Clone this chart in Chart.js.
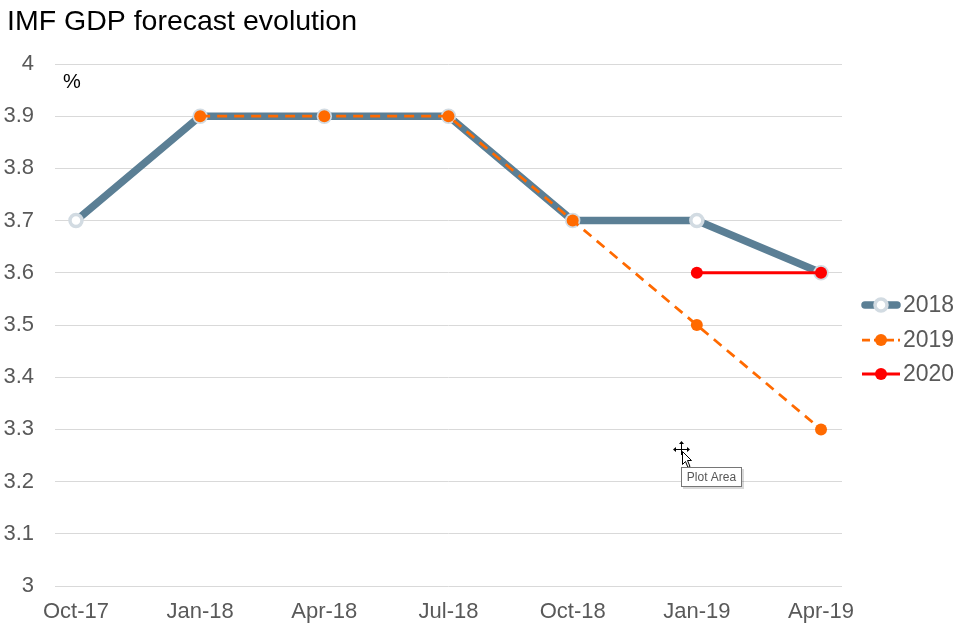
<!DOCTYPE html>
<html>
<head>
<meta charset="utf-8">
<script src="https://cdn.jsdelivr.net/npm/chart.js@4"></script>
<style>
  html, body { margin: 0; padding: 0; background: #fff; }
  #wrap { width: 966px; height: 630px; position: relative; }
</style>
</head>
<body>
<div id="wrap"><canvas id="chart"></canvas></div>
<script>
// data
const months = ['Oct-17', 'Jan-18', 'Apr-18', 'Jul-18', 'Oct-18', 'Jan-19', 'Apr-19']
const f2018 = [3.7, 3.9, 3.9, 3.9, 3.7, 3.7, 3.6]
const f2019 = [null, 3.9, 3.9, 3.9, 3.7, 3.5, 3.3]
const f2020 = [null, null, null, null, null, 3.6, 3.6]
const yTicks = [3, 3.1, 3.2, 3.3, 3.4, 3.5, 3.6, 3.7, 3.8, 3.9, 4]

const FONT = "'Liberation Sans', Arial, sans-serif"
const grey = '#595959'
const chartTitle = 'IMF GDP forecast evolution'

// series styles
const series = [
  { label: '2018', values: f2018, color: '#5b7f95', width: 7.5, dash: [], pointFill: '#ffffff', pointBorder: '#d2dbe2', pointBorderWidth: 3.5, radius: 6, order: 3 },
  { label: '2019', values: f2019, color: '#ff6a00', width: 2.75, dash: [10, 7], pointFill: '#ff6a00', pointBorder: '#ff6a00', pointBorderWidth: 0, radius: 6, order: 2 },
  { label: '2020', values: f2020, color: '#ff0000', width: 3, dash: [], pointFill: '#ff0000', pointBorder: '#ff0000', pointBorderWidth: 0, radius: 6, order: 1 }
]

const toPoints = vals => vals.map((v, i) => ({ x: i, y: v }))

// title, legend, "%" unit, plus the hover box and cursor from the screenshot
const extras = {
  id: 'extras',
  afterDraw(chart) {
    const { ctx, chartArea } = chart
    ctx.save()

    ctx.fillStyle = '#000'
    ctx.font = '28.5px ' + FONT
    ctx.textAlign = 'left'
    ctx.textBaseline = 'middle'
    ctx.fillText(chartTitle, 7, 22)

    ctx.font = '20px ' + FONT
    ctx.fillText('%', chartArea.left + 8, 82)

    const legendY = [305, 340, 374]
    const x0 = chartArea.right + 20
    series.forEach((s, i) => {
      const y = legendY[i]
      ctx.strokeStyle = s.color
      ctx.lineWidth = s.width
      ctx.lineCap = s.width > 4 ? 'round' : 'butt'
      ctx.setLineDash(s.dash.length ? [8, 4] : [])
      ctx.beginPath()
      ctx.moveTo(x0 + (s.width > 4 ? 3 : 0), y)
      ctx.lineTo(x0 + 38 - (s.width > 4 ? 3 : 0), y)
      ctx.stroke()
      ctx.setLineDash([])
      ctx.beginPath()
      ctx.arc(x0 + 19, y, s.radius, 0, Math.PI * 2)
      ctx.fillStyle = s.pointFill
      ctx.fill()
      if (s.pointBorderWidth) {
        ctx.lineWidth = s.pointBorderWidth
        ctx.strokeStyle = s.pointBorder
        ctx.stroke()
      }
      ctx.fillStyle = grey
      ctx.font = '23px ' + FONT
      ctx.textAlign = 'left'
      ctx.fillText(s.label, x0 + 41, y + 1)
    })

    // move cursor
    ctx.strokeStyle = '#000'
    ctx.fillStyle = '#000'
    ctx.lineWidth = 1
    ctx.beginPath()
    ctx.moveTo(681.5, 443); ctx.lineTo(681.5, 455)
    ctx.moveTo(675, 449.5); ctx.lineTo(688, 449.5)
    ctx.stroke()
    ctx.beginPath()
    ctx.moveTo(681.5, 441); ctx.lineTo(679, 444); ctx.lineTo(684, 444); ctx.closePath()
    ctx.moveTo(673, 449.5); ctx.lineTo(676, 447); ctx.lineTo(676, 452); ctx.closePath()
    ctx.moveTo(690, 449.5); ctx.lineTo(687, 447); ctx.lineTo(687, 452); ctx.closePath()
    ctx.fill()
    ctx.beginPath()
    ctx.moveTo(682.5, 451.5)
    ctx.lineTo(682.5, 464.5)
    ctx.lineTo(685.5, 461.5)
    ctx.lineTo(688, 467.5)
    ctx.lineTo(690, 466.5)
    ctx.lineTo(687.5, 460.5)
    ctx.lineTo(691.5, 460.5)
    ctx.closePath()
    ctx.fillStyle = '#fff'
    ctx.fill()
    ctx.stroke()

    // "Plot Area" hover tip
    ctx.fillStyle = 'rgba(0,0,0,0.15)'
    ctx.fillRect(683, 469, 61, 20)
    ctx.fillStyle = '#fff'
    ctx.fillRect(681, 467, 61, 20)
    ctx.strokeStyle = '#767676'
    ctx.lineWidth = 1
    ctx.strokeRect(681.5, 467.5, 60, 19)
    ctx.fillStyle = '#575757'
    ctx.font = '12px ' + FONT
    ctx.textAlign = 'center'
    ctx.fillText('Plot Area', 711.5, 477.5)

    ctx.restore()
  }
}

new Chart(document.getElementById('chart'), {
  type: 'line',
  data: {
    datasets: series.map(s => ({
      label: s.label,
      data: toPoints(s.values),
      borderColor: s.color,
      borderWidth: s.width,
      borderDash: s.dash,
      backgroundColor: s.pointFill,
      pointBackgroundColor: s.pointFill,
      pointBorderColor: s.pointBorder,
      pointBorderWidth: s.pointBorderWidth,
      pointRadius: s.radius,
      pointHoverRadius: s.radius,
      tension: 0,
      spanGaps: false,
      order: s.order
    }))
  },
  options: {
    responsive: true,
    maintainAspectRatio: false,
    animation: false,
    layout: { padding: { left: 0, right: 124, top: 64, bottom: 4 } },
    plugins: {
      legend: { display: false },
      tooltip: { enabled: false },
      title: { display: false }
    },
    scales: {
      x: {
        type: 'linear',
        min: -0.169,
        max: months.length - 1 + 0.169,
        afterBuildTicks: s => { s.ticks = months.map((_, i) => ({ value: i })) },
        afterFit: s => { s.height = 40 },
        ticks: {
          callback: v => months[v] ?? '',
          color: grey,
          font: { family: FONT, size: 22 },
          padding: 13,
          maxRotation: 0,
          autoSkip: false
        },
        grid: { display: false, drawTicks: false },
        border: { display: false }
      },
      y: {
        min: yTicks[0],
        max: yTicks[yTicks.length - 1],
        afterBuildTicks: s => { s.ticks = yTicks.map(v => ({ value: v })) },
        afterFit: s => { s.width = 55; s.paddingTop = 0; s.paddingBottom = 0 },
        ticks: {
          callback: v => String(+v.toFixed(1)),
          color: grey,
          font: { family: FONT, size: 22 },
          padding: 21
        },
        grid: { color: '#d9d9d9', lineWidth: 1, drawTicks: false },
        border: { display: false }
      }
    }
  },
  plugins: [extras]
})
</script>
</body>
</html>
